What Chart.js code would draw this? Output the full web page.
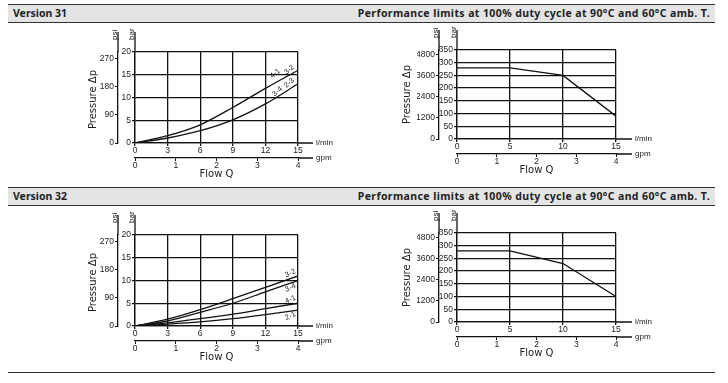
<!DOCTYPE html>
<html>
<head>
<meta charset="utf-8">
<script src="https://cdn.jsdelivr.net/npm/chart.js@4.4.0/dist/chart.umd.min.js"></script>
<style>
  body { margin: 0; background: #fff; width: 728px; height: 383px; position: relative; overflow: hidden; }
  .hdr { position: absolute; left: 8px; width: 707px; height: 17px; border-top: 1px solid #333; border-bottom: 1px solid #333;
         background: #e4e4e4; font: bold 10.5px "Noto Sans", sans-serif; color: #222; line-height: 17px; }
  .hdr .l { position: absolute; left: 5px; }
  .hdr .r { position: absolute; right: 5px; letter-spacing: 0.4px; }
  .rule { position: absolute; left: 8px; width: 707px; height: 0; border-top: 1px solid #333; }
  canvas { position: absolute; }
</style>
</head>
<body>
<div class="hdr" style="top:4px"><span class="l">Version 31</span><span class="r">Performance limits at 100% duty cycle at 90°C and 60°C amb. T.</span></div>
<div class="hdr" style="top:187px"><span class="l">Version 32</span><span class="r">Performance limits at 100% duty cycle at 90°C and 60°C amb. T.</span></div>
<div class="rule" style="top:372px"></div>

<canvas id="dp31" width="290" height="158" style="left:60px;top:22px"></canvas>
<canvas id="lim31" width="290" height="158" style="left:380px;top:22px"></canvas>
<canvas id="dp32" width="290" height="158" style="left:60px;top:205px"></canvas>
<canvas id="lim32" width="290" height="158" style="left:380px;top:205px"></canvas>

<script>
// flow in l/min
const flowLpm = [0, 3, 6, 9, 12, 15];
const limitFlow = [0, 5, 10, 15];

// version 31 pressure drop, bar
const v31_41_32 = [0, 1.6, 4.0, 7.8, 12.0, 16.0];
const v31_34_23 = [0, 1.1, 2.7, 5.1, 8.6, 13.0];
// version 32 pressure drop, bar
const v32_32 = [0, 1.5, 3.6, 6.0, 8.5, 11.0];
const v32_34 = [0, 1.1, 3.0, 5.0, 7.5, 10.0];
const v32_41 = [0, 0.7, 1.6, 2.6, 3.8, 5.0];
const v32_21 = [0, 0.4, 0.9, 1.6, 2.5, 3.5];

// performance limits, bar
const v31Limit = [280, 280, 250, 90];
const v32Limit = [280, 280, 230, 100];

// ticks
const lpmTicksDp = [0, 3, 6, 9, 12, 15];
const lpmTicksLim = [0, 5, 10, 15];
const gpmTicks = [0, 1, 2, 3, 4];
const barTicksDp = [0, 5, 10, 15, 20];
const psiTicksDp = [0, 90, 180, 270];
const barTicksLim = [0, 50, 100, 150, 200, 250, 300, 350];
const psiTicksLim = [0, 1200, 2400, 3600, 4800];

// curve tags (text, flow, pressure)
const tags31 = [['4-1', 12.9, 15.3], ['3-2', 14.2, 16.1], ['3-4', 13.1, 11.3], ['2-3', 14.2, 13.2]];
const tags32 = [['3-2', 14.3, 11.6], ['3-4', 14.3, 8.4], ['4-1', 14.3, 5.8], ['2-1', 14.3, 2.2]];

const BAR_TO_PSI = 14.5038;
const INK = '#111';
const TXT = '#222';
const tickFont = { family: "'Liberation Sans Narrow', 'Liberation Sans', sans-serif", size: 8.5 };

const decor = {
    id: 'decor',
    afterDraw(chart, args, o) {
        const c = chart.ctx, a = chart.chartArea;
        const sx = chart.scales.x, sg = chart.scales.gpm, sy = chart.scales.y, sp = chart.scales.psi;
        c.save();
        c.strokeStyle = INK;
        c.lineWidth = 1.3;
        c.beginPath();
        // axis extensions
        c.moveTo(a.right, sx.top); c.lineTo(a.right + o.extX, sx.top);
        c.moveTo(a.right, sg.top); c.lineTo(a.right + o.extX, sg.top);
        c.moveTo(sy.right, a.top); c.lineTo(sy.right, a.top - o.extY);
        c.moveTo(sp.right, a.top); c.lineTo(sp.right, a.top - o.extY);
        c.stroke();

        c.fillStyle = TXT;
        c.font = "8px 'Liberation Sans Narrow', 'Liberation Sans', sans-serif";
        c.textBaseline = 'middle';
        c.textAlign = 'left';
        c.fillText('l/min', a.right + o.extX + 3, sx.top);
        c.fillText('gpm', a.right + o.extX + 3, sg.top);

        // unit labels at the top of the vertical axes
        [[sp.right, 'psi'], [sy.right, 'bar']].forEach(([x, t]) => {
            c.save();
            c.translate(x - 1, a.top - o.extY + 8);
            c.rotate(-Math.PI / 2);
            c.textBaseline = 'alphabetic';
            c.fillText(t, 0, 0);
            c.restore();
        });

        // axis titles
        c.font = "10px 'DejaVu Sans', sans-serif";
        c.textAlign = 'center';
        c.fillText('Flow Q', (a.left + a.right) / 2, sg.top + o.flowDy);
        c.save();
        c.translate(sp.left + o.pressDx, (a.top + a.bottom) / 2 + o.pressDy);
        c.rotate(-Math.PI / 2);
        c.fillText('Pressure \u0394p', 0, 0);
        c.restore();

        // curve tags
        c.font = "7.5px 'Liberation Sans Narrow', 'Liberation Sans', sans-serif";
        (o.tags || []).forEach(([t, x, y]) => {
            c.save();
            c.translate(sx.getPixelForValue(x), sy.getPixelForValue(y));
            c.rotate(o.tagAngle * Math.PI / 180);
            c.fillText(t, 0, 0);
            c.restore();
        });
        c.restore();
    }
};

function setTicks(list) {
    return function (scale) { scale.ticks = list.map(v => ({ value: v })); };
}

function plain(v) { return String(v); }

function makeChart(id, o) {
    new Chart(document.getElementById(id), {
        type: 'line',
        data: {
            datasets: o.series.map(s => ({
                data: o.flow.map((x, i) => ({ x: x, y: s[i] })),
                borderColor: INK,
                borderWidth: 1.3,
                pointRadius: 0,
                fill: false,
                cubicInterpolationMode: o.smooth ? 'monotone' : 'default',
                tension: 0
            }))
        },
        options: {
            responsive: false,
            animation: false,
            events: [],
            layout: { padding: o.pad },
            plugins: {
                legend: { display: false },
                tooltip: { enabled: false },
                decor: o.decor
            },
            scales: {
                x: {
                    type: 'linear', position: 'bottom', weight: 0, min: 0, max: 15,
                    afterBuildTicks: setTicks(o.xTicks),
                    afterFit: s => { s.height = 15; },
                    grid: { color: INK, lineWidth: 1.3, tickLength: 3 },
                    border: { color: INK, width: 1.3 },
                    ticks: { font: tickFont, color: TXT, padding: 0, maxRotation: 0, autoSkip: false, callback: plain }
                },
                gpm: {
                    type: 'linear', position: 'bottom', weight: 1, min: 0, max: 4,
                    afterBuildTicks: setTicks(gpmTicks),
                    afterFit: s => { s.height = 12; },
                    grid: { drawOnChartArea: false, color: INK, lineWidth: 1, tickLength: 3 },
                    border: { color: INK, width: 1.3 },
                    ticks: { font: tickFont, color: TXT, padding: 0, maxRotation: 0, autoSkip: false, callback: plain }
                },
                y: {
                    type: 'linear', position: 'left', weight: 0, min: 0, max: o.yMax,
                    afterBuildTicks: setTicks(o.barTicks),
                    afterFit: s => { s.width = o.barW; },
                    grid: { color: INK, lineWidth: 1.3, tickLength: 3 },
                    border: { color: INK, width: 1.3 },
                    ticks: { font: tickFont, color: TXT, padding: 1, autoSkip: false, callback: plain }
                },
                psi: {
                    type: 'linear', position: 'left', weight: 1, min: 0, max: o.yMax * BAR_TO_PSI,
                    afterBuildTicks: setTicks(o.psiTicks),
                    afterFit: s => { s.width = o.psiW; },
                    grid: { drawOnChartArea: false, color: INK, lineWidth: 1, tickLength: 3 },
                    border: { color: INK, width: 1.3 },
                    ticks: { font: tickFont, color: TXT, padding: 1, autoSkip: false, callback: plain }
                }
            }
        },
        plugins: [decor]
    });
}

const dpLayout = { left: 38, right: 52, top: 30, bottom: 10 };
const limLayout = { left: 37, right: 54, top: 28, bottom: 14 };

makeChart('dp31', {
    flow: flowLpm, series: [v31_41_32, v31_34_23], smooth: true,
    xTicks: lpmTicksDp, barTicks: barTicksDp, psiTicks: psiTicksDp, yMax: 20,
    pad: dpLayout, barW: 17, psiW: 20,
    decor: { extX: 15, extY: 20, flowDy: 16, pressDx: -5, pressDy: 2, tags: tags31, tagAngle: -40 }
});
makeChart('lim31', {
    flow: limitFlow, series: [v31Limit], smooth: false,
    xTicks: lpmTicksLim, barTicks: barTicksLim, psiTicks: psiTicksLim, yMax: 350,
    pad: limLayout, barW: 18, psiW: 22,
    decor: { extX: 16, extY: 20, flowDy: 16, pressDx: -10, pressDy: 0, tags: [], tagAngle: 0 }
});
makeChart('dp32', {
    flow: flowLpm, series: [v32_32, v32_34, v32_41, v32_21], smooth: true,
    xTicks: lpmTicksDp, barTicks: barTicksDp, psiTicks: psiTicksDp, yMax: 20,
    pad: dpLayout, barW: 17, psiW: 20,
    decor: { extX: 15, extY: 20, flowDy: 16, pressDx: -5, pressDy: 2, tags: tags32, tagAngle: -25 }
});
makeChart('lim32', {
    flow: limitFlow, series: [v32Limit], smooth: false,
    xTicks: lpmTicksLim, barTicks: barTicksLim, psiTicks: psiTicksLim, yMax: 350,
    pad: limLayout, barW: 18, psiW: 22,
    decor: { extX: 16, extY: 20, flowDy: 16, pressDx: -10, pressDy: 0, tags: [], tagAngle: 0 }
});
</script>
</body>
</html>
